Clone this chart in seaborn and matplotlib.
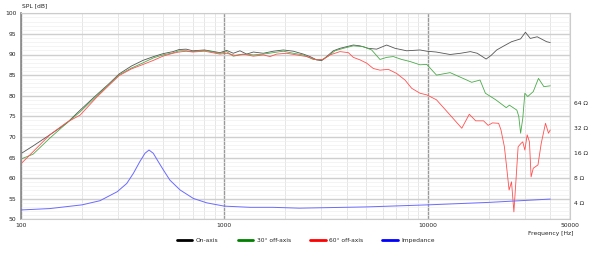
import numpy as np
import pandas as pd
import matplotlib
matplotlib.use("Agg")
import matplotlib.pyplot as plt
from matplotlib.ticker import MultipleLocator, LogLocator, FixedLocator, NullFormatter
from matplotlib.lines import Line2D
import seaborn as sns

# ---------------- data ----------------
on_freq = [100, 115, 139, 168, 196, 236, 270, 305, 350, 400, 450, 500, 560, 600, 650, 700, 800,
           953, 1028, 1108, 1195, 1289, 1390, 1556, 1742, 1952, 2185, 2447, 2639, 2845, 3011, 3186,
           3436, 3705, 3996, 4309, 4646, 5105, 5610, 6282, 6903, 7880, 9160, 9890, 11000, 12880,
           14500, 16200, 17500, 19360, 20500, 21820, 23500, 25800, 28600, 30200, 31900, 34500,
           38400, 40000]
on_spl = [65.9, 67.8, 70.5, 73.3, 76.5, 80.2, 82.8, 85.3, 87.2, 88.6, 89.5, 90.2, 90.7, 91.2, 91.3,
          90.9, 91.1,
          90.45, 91.0, 90.3, 90.9, 90.1, 90.6, 90.3, 90.8, 91.1, 90.8, 90.1, 89.5, 88.7, 88.5, 89.5,
          90.9, 91.5, 91.9, 92.3, 92.1, 91.5, 91.3, 92.3, 91.5, 90.9, 91.1, 90.8, 90.6, 90.0,
          90.3, 90.7, 90.3, 88.9, 89.8, 91.1, 92.0, 93.1, 93.8, 95.4, 93.9, 94.3,
          93.1, 92.9]

off30_freq = [100, 115, 139, 168, 196, 236, 270, 305, 350, 400, 450, 500, 560, 600, 650, 700, 800,
              953, 1028, 1108, 1195, 1289, 1390, 1556, 1742, 1952, 2185, 2447, 2740, 3011, 3245,
              3500, 3847, 4309, 4824, 5301, 5825, 6282, 6774, 7442, 8182, 9160, 9890, 11040, 12880,
              15550, 16440, 18070, 19200, 21600, 24300, 25200, 27400, 28000, 28600, 29300, 30000,
              31000, 33000, 35000, 37200, 38600, 40000]
off30_spl = [64.6, 65.8, 69.7, 73.3, 76.1, 79.9, 82.6, 85.1, 86.7, 88.0, 89.2, 89.9, 90.4, 90.9,
             90.9, 90.7, 91.0,
             90.3, 90.7, 89.6, 89.9, 90.1, 89.9, 90.1, 90.45, 90.8, 90.3, 89.9, 88.8, 88.7, 89.6,
             90.9, 91.5, 92.1, 91.9, 91.1, 88.8, 89.3, 89.5, 88.8, 88.3, 87.5, 87.6, 85.0, 85.6,
             83.8, 83.25, 83.8, 80.6, 79.0, 77.1, 77.7, 76.5, 75.0, 70.9, 74.5, 80.6,
             79.8, 81.0, 84.2, 82.2, 82.3, 82.4]

off60_freq = [100, 115, 139, 168, 196, 236, 270, 305, 350, 400, 450, 500, 560, 600, 650, 700, 800,
              953, 1028, 1129, 1241, 1390, 1556, 1678, 1810, 2026, 2269, 2541, 2845, 3068, 3308,
              3705, 4071, 4309, 4646, 5010, 5402, 5825, 6401, 7034, 7732, 8338, 9160, 9890, 11040,
              12880, 14700, 16000, 17200, 18800, 19800, 20800, 22300, 22900, 23800, 24300, 25100,
              25800, 26500, 27200, 27800, 28700, 29300, 30000, 30800, 31600, 32200, 33000, 34800,
              36100, 37900, 39200, 40000]
off60_spl = [63.4, 66.4, 70.5, 73.5, 75.3, 79.6, 82.4, 84.9, 86.5, 87.6, 88.6, 89.6, 90.3, 90.6,
             90.8, 90.6, 90.8,
             90.1, 90.3, 89.8, 90.1, 89.6, 89.9, 89.5, 90.1, 90.3, 89.9, 89.5, 88.7, 88.8, 89.9,
             90.7, 90.45, 89.3, 88.7, 87.9, 86.6, 86.2, 86.4, 85.4, 83.8, 81.8, 80.6, 80.2, 79.0,
             75.3, 72.1, 75.5, 73.9, 73.9, 72.8, 73.4, 73.3, 71.7, 67.6, 63.6, 57.1,
             59.1, 51.8, 60.3, 67.6, 68.4, 68.8, 66.8, 70.5, 68.8, 60.3, 62.4, 63.2,
             68.4, 73.3, 70.9, 71.7]

imp_freq = [100, 139, 200, 245, 298, 332, 358, 385, 408, 427, 448, 474, 502, 541, 607, 705, 820,
            1000, 1340, 1730, 2340, 5000, 10000, 20000, 40000]
imp_ohm = [3.26, 3.39, 3.76, 4.22, 5.43, 6.84, 9.1, 12.6, 15.9, 17.4, 15.9, 12.6, 10.0, 7.5, 5.7,
           4.5, 3.98, 3.63, 3.51, 3.51, 3.43, 3.55, 3.76, 4.03, 4.42]

series_names = ["On-axis", "30° off-axis", "60° off-axis", "Impedance"]
y_ticks = [50, 55, 60, 65, 70, 75, 80, 85, 90, 95, 100]
x_ticks = [100, 1000, 10000, 50000]
ohm_ticks = [4, 8, 16, 32, 64]

# ---------------- figure ----------------
sns.set_style("white")
plt.rcParams["font.family"] = ["DejaVu Sans"]
FS = 4.3

fig = plt.figure(figsize=(6.0, 2.61), dpi=100)
ax = fig.add_axes([20.7 / 600, 1 - 219.3 / 261, (570 - 20.7) / 600, (219.3 - 13.3) / 261])

spl = pd.concat([
    pd.DataFrame({"f": on_freq, "spl": on_spl, "s": series_names[0]}),
    pd.DataFrame({"f": off30_freq, "spl": off30_spl, "s": series_names[1]}),
    pd.DataFrame({"f": off60_freq, "spl": off60_spl, "s": series_names[2]}),
])
pal = {series_names[0]: "#555555", series_names[1]: "#4aaa4a", series_names[2]: "#ff5050"}
sns.lineplot(data=spl, x="f", y="spl", hue="s", palette=pal, estimator=None,
             linewidth=0.6, ax=ax, legend=False)

ax.set_xscale("log")
ax.set_xlim(100, 50000)
ax.set_ylim(50, 100)
ax.xaxis.set_major_locator(FixedLocator(x_ticks))
ax.set_xticklabels([str(t) for t in x_ticks])
ax.xaxis.set_minor_locator(LogLocator(base=10, subs=np.arange(2, 10)))
ax.xaxis.set_minor_formatter(NullFormatter())
ax.set_yticks(y_ticks)
ax.yaxis.set_minor_locator(MultipleLocator(1))
ax.set_xlabel("")
ax.set_ylabel("")
ax.tick_params(axis="both", which="both", length=0, labelsize=FS, colors="#222222", pad=3)

ax.grid(False)
ax.xaxis.grid(True, which="minor", color="#e2e2e2", linewidth=0.6)
ax.yaxis.grid(True, which="minor", color="#f0f0f0", linewidth=0.5)
ax.yaxis.grid(True, which="major", color="#cfcfcf", linewidth=1.0)
ax.xaxis.grid(True, which="major", color="#9a9a9a", linewidth=1.0)
ax.set_axisbelow(True)
for side in ["top", "bottom", "right"]:
    ax.spines[side].set_color("#cccccc")
    ax.spines[side].set_linewidth(0.8)
ax.spines["left"].set_color("#8a8a8a")
ax.spines["left"].set_linewidth(1.2)

# impedance on right log axis
ax2 = ax.twinx()
imp = pd.DataFrame({"f": imp_freq, "z": imp_ohm})
sns.lineplot(data=imp, x="f", y="z", color="#6a6aff", linewidth=0.7, ax=ax2, estimator=None)
ax2.set_yscale("log")
ax2.set_ylim(10 ** ((50 - 42) / 20), 10 ** ((100 - 42) / 20))
ax2.yaxis.set_major_locator(FixedLocator(ohm_ticks))
ax2.set_yticklabels([f"{t} Ω" for t in ohm_ticks])
ax2.yaxis.set_minor_locator(FixedLocator([]))
ax2.set_ylabel("")
ax2.set_xlabel("")
ax2.grid(False)
ax2.tick_params(axis="y", which="both", length=0, labelsize=FS, colors="#222222", pad=3)
for s in ax2.spines.values():
    s.set_visible(False)

fig.text(22 / 600, 1 - 6 / 261, "SPL [dB]", fontsize=FS, color="#222222", va="center", ha="left")
fig.text(573 / 600, 1 - 233 / 261, "Frequency [Hz]", fontsize=FS, color="#222222",
         va="center", ha="right")

handles = [Line2D([], [], color=c, linewidth=2) for c in ["black", "#008000", "red", "blue"]]
fig.legend(handles, series_names, loc="center", bbox_to_anchor=(306 / 600, 1 - 240 / 261),
           ncol=4, frameon=False, fontsize=FS, handlelength=2.6, handletextpad=0.6,
           columnspacing=3.2)

fig.savefig("out.png", dpi=100)
